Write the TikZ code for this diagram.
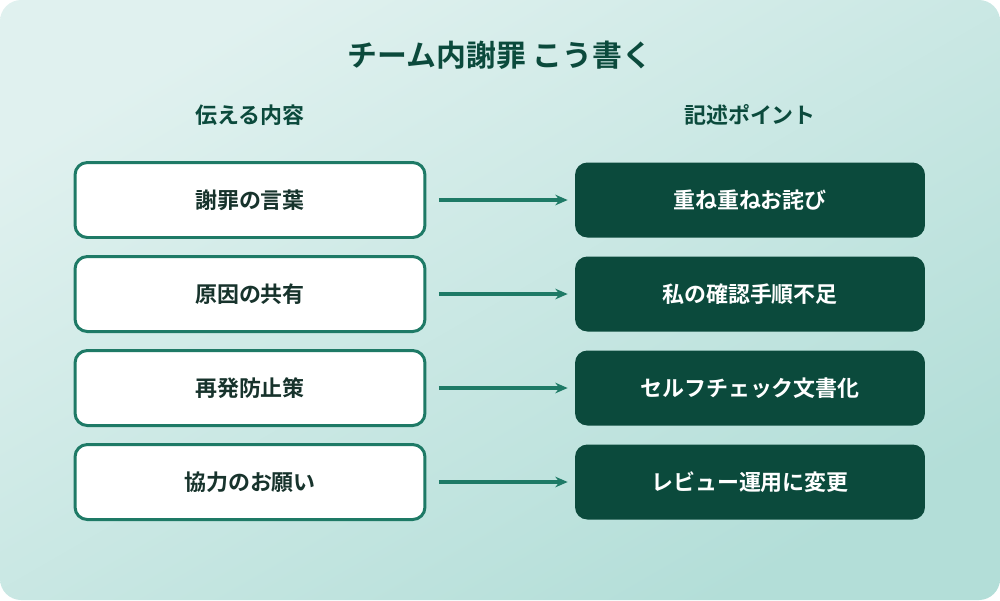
\documentclass[tikz,border=0pt]{standalone}
\usepackage{fontspec}
\usetikzlibrary{arrows.meta,positioning}
\newfontfamily\jpfont{Noto Sans CJK JP Bold}
\definecolor{bgA}{HTML}{E0F1EF}
\definecolor{bgB}{HTML}{B3DED8}
\definecolor{deep}{HTML}{0B4A3C}
\definecolor{teal}{HTML}{1E7A66}
\definecolor{ink}{HTML}{17332C}
\begin{document}
\begin{tikzpicture}[x=0.02cm,y=-0.02cm,
    every node/.style={font=\jpfont},
    point/.style={rectangle,rounded corners=7pt,minimum width=7cm,minimum height=1.5cm,font=\jpfont\fontsize{12.5}{14}\selectfont},
    said/.style={point,draw=teal,line width=1.7pt,fill=white,text=ink},
    how/.style={point,fill=deep,text=white},
    link/.style={-{Stealth[length=7pt,width=6pt]},draw=teal,line width=1.9pt}]
    \shade[left color=bgB,right color=bgA,rounded corners=12pt,shading angle=-150] (0,0) rectangle (1000,600);
    \useasboundingbox (0,0) rectangle (1000,600);

    \node[text=deep,font=\jpfont\fontsize{17}{20}\selectfont] (title) at (500,55) {チーム内謝罪\ こう書く};
    \node[text=deep,font=\jpfont\fontsize{12.5}{14}\selectfont] (hl) at (250,115) {伝える内容};
    \node[text=deep,font=\jpfont\fontsize{12.5}{14}\selectfont] (hr) at (750,115) {記述ポイント};

    \node[said] (s1) at (250,200) {謝罪の言葉};
    \node[said] (s2) at (250,294) {原因の共有};
    \node[said] (s3) at (250,388) {再発防止策};
    \node[said] (s4) at (250,482) {協力のお願い};

    \node[how] (h1) at (750,200) {重ね重ねお詫び};
    \node[how] (h2) at (750,294) {私の確認手順不足};
    \node[how] (h3) at (750,388) {セルフチェック文書化};
    \node[how] (h4) at (750,482) {レビュー運用に変更};

    \foreach \i in {1,...,4}
        \draw[link] ([xshift=7pt]s\i.east) -- ([xshift=-4pt]h\i.west);
\end{tikzpicture}
\end{document}
